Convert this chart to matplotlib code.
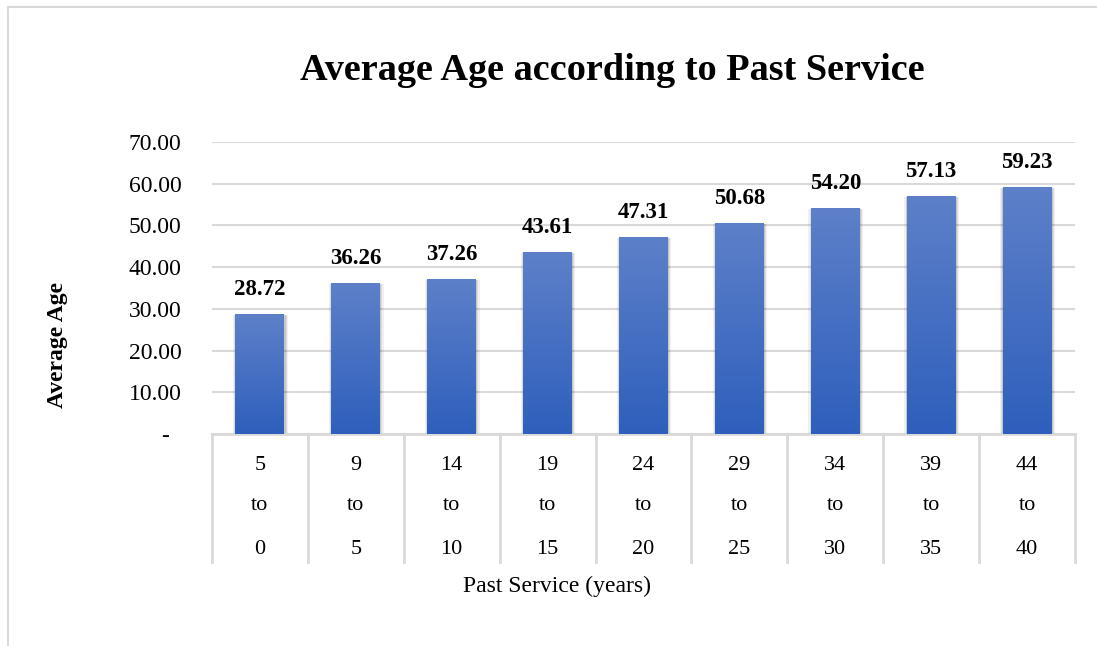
import matplotlib
matplotlib.use("Agg")
import matplotlib.pyplot as plt
import numpy as np

# data
upper = ["5", "9", "14", "19", "24", "29", "34", "39", "44"]
lower = ["0", "5", "10", "15", "20", "25", "30", "35", "40"]
avg_age = [28.72, 36.26, 37.26, 43.61, 47.31, 50.68, 54.20, 57.13, 59.23]
yticks = [0, 10, 20, 30, 40, 50, 60, 70]

plt.rcParams['font.family'] = ['Liberation Serif', 'DejaVu Serif']

W, H = 1097, 646
fig = plt.figure(figsize=(W / 100, H / 100), dpi=100)

# axes placed in pixel terms
left, right, top, bottom = 212, 1075, 142, 434
ax = fig.add_axes([left / W, 1 - bottom / H, (right - left) / W, (bottom - top) / H])

x = np.arange(len(avg_age))
bw = 0.51
grid_c = "#d9d9d9"

ax.set_xlim(-0.5, len(avg_age) - 0.5)
ax.set_ylim(0, 70)
ax.set_yticks(yticks)
ax.set_yticklabels(["-  " if v == 0 else f"{v:.2f}" for v in yticks], fontsize=17)
ax.tick_params(axis="y", length=0, pad=22)
ax.set_xticks([])
ax.grid(axis="y", color=grid_c, lw=1.5)
ax.set_axisbelow(True)
for s in ["left", "right", "top"]:
    ax.spines[s].set_visible(False)
ax.spines["bottom"].set_color(grid_c)
ax.spines["bottom"].set_linewidth(2)

# gradient for bars (top lighter, bottom darker)
top_c = np.array([94, 128, 201]) / 255
bot_c = np.array([46, 95, 188]) / 255
t = np.linspace(0, 1, 256)[:, None]
grad = (top_c * (1 - t) + bot_c * t).reshape(256, 1, 3)

for xi, v in zip(x, avg_age):
    # soft shadow
    for k, a in [(0.06, 0.06), (0.035, 0.08), (0.015, 0.10)]:
        ax.bar(xi + 0.005, v + 0.3, width=bw + k, bottom=-0.6, color="black",
               alpha=a, lw=0, zorder=2)
    b = ax.bar(xi, v, width=bw, color="none", lw=0, zorder=3)[0]
    im = ax.imshow(grad, extent=(xi - bw / 2, xi + bw / 2, 0, v), aspect="auto",
                   origin="upper", zorder=3)
    im.set_clip_path(b)
    ax.annotate(f"{v:.2f}", (xi, v), xytext=(0, 10), textcoords="offset points",
                ha="center", va="bottom", fontsize=16.5, fontweight="bold")

ax.set_xlim(-0.5, len(avg_age) - 0.5)
ax.set_ylim(0, 70)

# category table under the axis
tr = ax.get_xaxis_transform()
h = bottom - top
for xi, u, lo in zip(x, upper, lower):
    for yy, s in [(465, u), (506, "to"), (549, lo)]:
        ax.text(xi, -(yy - bottom) / h, s, transform=tr, ha="center", va="center",
                fontsize=16, clip_on=False)
for xb in np.arange(len(avg_age) + 1) - 0.5:
    ax.plot([xb, xb], [0, -(562 - bottom) / h], transform=tr, color=grid_c,
            lw=2, clip_on=False)

fig.text(612 / W, 1 - 70 / H, "Average Age according to Past Service",
         ha="center", va="center", fontsize=27.5, fontweight="bold")
fig.text(557 / W, 1 - 586 / H, "Past Service (years)", ha="center", va="center",
         fontsize=17)
fig.text(57 / W, 1 - 345 / H, "Average Age", ha="center", va="center",
         rotation=90, fontsize=17, fontweight="bold")

# chart frame
fig.add_artist(plt.Line2D([8 / W, 8 / W], [0, 1 - 7 / H], color=grid_c, lw=1.5,
                          transform=fig.transFigure))
fig.add_artist(plt.Line2D([8 / W, 1], [1 - 7 / H, 1 - 7 / H], color=grid_c, lw=1.5,
                          transform=fig.transFigure))

fig.savefig("out.png", dpi=100)
